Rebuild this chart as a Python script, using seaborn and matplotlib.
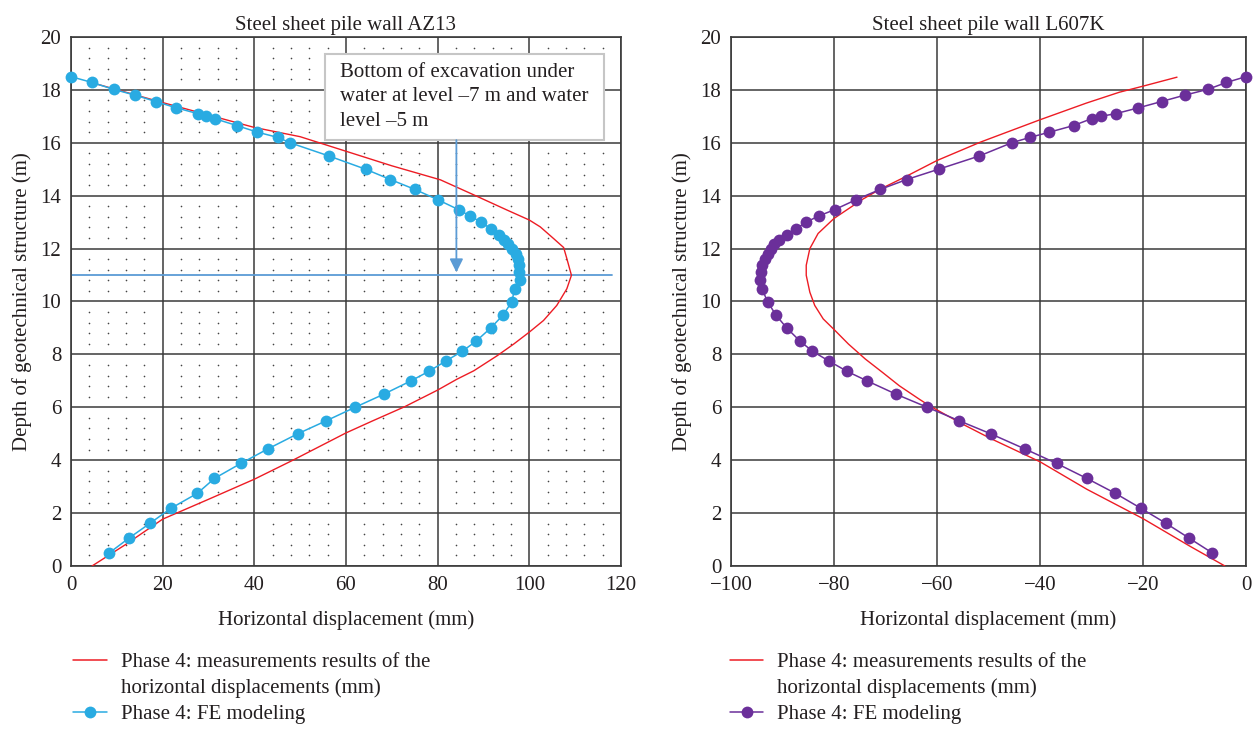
import numpy as np
import pandas as pd
import matplotlib
matplotlib.use("Agg")
import matplotlib.pyplot as plt
from matplotlib.lines import Line2D
from matplotlib.patches import Rectangle
import seaborn as sns

# ---------------- data ----------------
# depth nodes of the FE model (m), shared by both walls
fe_depth = [18.5, 18.28, 18.02, 17.8, 17.56, 17.32, 17.1, 17.0, 16.91, 16.65,
            16.4, 16.2, 16.0, 15.5, 15.0, 14.61, 14.24, 13.85, 13.47, 13.23,
            13.0, 12.75, 12.5, 12.33, 12.17, 12.0, 11.8, 11.61, 11.38, 11.1,
            10.81, 10.48, 9.99, 9.49, 9.0, 8.5, 8.12, 7.75, 7.36, 7.0,
            6.49, 6.0, 5.49, 5.0, 4.43, 3.88, 3.31, 2.75, 2.18, 1.62,
            1.06, 0.5]

# AZ13 wall: FE horizontal displacement (mm)
az13_fe_disp = [0, 4.6, 9.3, 14.0, 18.5, 23.0, 27.7, 29.4, 31.4, 36.2,
                40.7, 45.2, 47.8, 56.3, 64.3, 69.7, 75.0, 80.0, 84.6, 87.1,
                89.5, 91.6, 93.3, 94.4, 95.3, 96.2, 97.0, 97.5, 97.7, 97.8,
                97.9, 96.8, 96.2, 94.3, 91.6, 88.4, 85.4, 81.8, 78.1, 74.2,
                68.2, 62.0, 55.7, 49.5, 43.0, 37.1, 31.3, 27.6, 21.8, 17.3,
                12.7, 8.4]

# AZ13 wall: measured horizontal displacement
az13_meas_disp = [5.0, 20, 30, 40, 50, 60, 70, 80.6, 87.9, 95.1, 100, 102.4,
                  105.3, 107.5, 108.2, 109.2, 108.2, 106.0, 103.1, 100, 96.6,
                  93.0, 87.9, 84.2, 80, 72.8, 66, 60, 48.2, 40, 30, 20, 12, 4.6]
az13_meas_depth = [18.25, 17.52, 17.05, 16.58, 16.23, 15.68, 15.13, 14.6,
                   14.03, 13.46, 13.08, 12.82, 12.38, 12.04, 11.62, 10.99,
                   10.48, 9.85, 9.28, 8.84, 8.39, 7.95, 7.38, 7.06, 6.65, 6.02,
                   5.5, 5.03, 3.98, 3.28, 2.52, 1.77, 0.82, 0.0]

# L607K wall: FE horizontal displacement (mm)
l607k_fe_disp = [0, -3.8, -7.4, -11.9, -16.4, -20.9, -25.3, -28.2, -30.0, -33.5,
                 -38.2, -42.0, -45.5, -51.8, -59.7, -65.9, -71.0, -75.7, -79.9, -83.0,
                 -85.4, -87.4, -89.2, -90.7, -91.6, -92.3, -92.9, -93.4, -93.9, -94.2,
                 -94.3, -94.0, -92.9, -91.3, -89.2, -86.6, -84.2, -81.0, -77.5, -73.6,
                 -67.9, -61.9, -55.7, -49.6, -43.0, -36.8, -30.9, -25.4, -20.4, -15.6,
                 -11.1, -6.6]

# L607K wall: measured horizontal displacement
l607k_meas_disp = [-13.4, -20, -24.6, -31.0, -40, -51.5, -60, -66.3, -71.0, -74.4,
                   -80, -83.1, -84.7, -85.4, -85.4, -84.7, -83.75, -82.1, -80,
                   -77.2, -73.9, -70.6, -67.3, -63.4, -61.4, -55.1, -49.6, -40,
                   -30.9, -20, -11, -4.1]
l607k_meas_depth = [18.48, 18.14, 17.91, 17.5, 16.87, 16.03, 15.33, 14.7, 14.25,
                    13.87, 13.14, 12.57, 12.0, 11.37, 10.99, 10.35, 9.85, 9.34,
                    8.94, 8.39, 7.82, 7.32, 6.81, 6.3, 6.05, 5.37, 4.82, 3.94,
                    2.9, 1.79, 0.76, 0.0]

titles = ["Steel sheet pile wall AZ13", "Steel sheet pile wall L607K"]
az13_xticks = [0, 20, 40, 60, 80, 100, 120]
l607k_xticks = [-100, -80, -60, -40, -20, 0]
depth_ticks = [0, 2, 4, 6, 8, 10, 12, 14, 16, 18, 20]

excavation_depth = 11.0
excavation_note = "Bottom of excavation under\nwater at level \u20137 m and water\nlevel \u20135 m"
label_meas = ["Phase 4: measurements results of the", "horizontal displacements (mm)"]
label_fe = "Phase 4: FE modeling"

# ---------------- style ----------------
sns.set_theme(style="white")
plt.rcParams["font.family"] = ["Liberation Serif", "DejaVu Serif"]
plt.rcParams["axes.unicode_minus"] = True

TXT = "#231F20"
GRID = "#3a3a3a"
RED = "#ED1C24"
BLUE = "#29ABE2"
PURPLE = "#6B2F9A"
STEEL = "#5B9BD5"
FS = 15

fig = plt.figure(figsize=(12.6, 7.29), dpi=100)
ax1 = fig.add_axes([0.0563, 0.2236, 0.4365, 0.7257])
ax2 = fig.add_axes([0.5802, 0.2236, 0.4087, 0.7257])


def style_axes(ax, xlim, xticks, title):
    ax.set_xlim(*xlim)
    ax.set_ylim(0, 20)
    ax.set_xticks(xticks)
    ax.set_yticks(depth_ticks)
    ax.grid(True, which="major", color=GRID, linewidth=1.1, zorder=1)
    ax.set_axisbelow(True)
    for sp in ax.spines.values():
        sp.set_color(GRID)
        sp.set_linewidth(1.2)
    ax.tick_params(length=0, pad=7, labelsize=FS, colors=TXT)
    ax.set_xlabel("Horizontal displacement (mm)", fontsize=FS, color=TXT, labelpad=11)
    ax.set_ylabel("Depth of geotechnical structure (m)", fontsize=FS, color=TXT, labelpad=6)
    ax.set_title(title, fontsize=FS, color=TXT, pad=5)


# ---------------- left: AZ13 ----------------
style_axes(ax1, (0, 120), az13_xticks, titles[0])

# dotted background lattice
gx = [v for v in np.arange(4, 120, 4) if v % 20]
gy = [v for v in np.arange(0.4, 20, 0.4) if abs(v / 2 - round(v / 2)) > 1e-6]
mx, my = np.meshgrid(gx, gy)
ax1.scatter(mx.ravel(), my.ravel(), s=1.4, color="#444444", linewidths=0, zorder=0.5)

ax1.plot([0, 118], [excavation_depth, excavation_depth], color=STEEL, lw=1.3, zorder=2)

sns.lineplot(x=az13_meas_disp, y=az13_meas_depth, sort=False, estimator=None,
             color=RED, linewidth=1.0, ax=ax1, zorder=3)
sns.lineplot(x=az13_fe_disp, y=fe_depth, sort=False, estimator=None,
             color=BLUE, linewidth=1.1, marker="o", markersize=8.5,
             markeredgewidth=0, clip_on=False, ax=ax1, zorder=4)

ax1.add_patch(Rectangle((55.4, 16.1), 61.0, 3.25, facecolor="white",
                        edgecolor="#C6C6C6", linewidth=1.5, zorder=5))
ax1.text(58.8, 19.03, excavation_note, fontsize=FS, color=TXT, ha="left", va="top",
         linespacing=1.42, zorder=6)
ax1.annotate("", xy=(84.1, excavation_depth + 0.1), xytext=(84.1, 16.1),
             arrowprops=dict(arrowstyle="-|>", color=STEEL, lw=1.3,
                             mutation_scale=20, shrinkA=0, shrinkB=0),
             zorder=6)

# ---------------- right: L607K ----------------
style_axes(ax2, (-100, 0), l607k_xticks, titles[1])
sns.lineplot(x=l607k_meas_disp, y=l607k_meas_depth, sort=False, estimator=None,
             color=RED, linewidth=1.0, ax=ax2, zorder=3)
sns.lineplot(x=l607k_fe_disp, y=fe_depth, sort=False, estimator=None,
             color=PURPLE, linewidth=1.1, marker="o", markersize=8.5,
             markeredgewidth=0, clip_on=False, ax=ax2, zorder=4)

# ---------------- legends ----------------
def add_legend(ax, fe_color, x0):
    handles = [Line2D([], [], color=RED, lw=1.1),
               Line2D([], [], color="none"),
               Line2D([], [], color=fe_color, lw=1.1, marker="o",
                      markersize=8.5, markeredgewidth=0)]
    labels = [label_meas[0], label_meas[1], label_fe]
    leg = ax.legend(handles, labels, loc="upper left", bbox_to_anchor=(x0, 0.105),
                    bbox_transform=fig.transFigure, frameon=False, fontsize=FS,
                    handlelength=1.63, handletextpad=0.67, labelspacing=0.3,
                    borderpad=0, borderaxespad=0)
    for t in leg.get_texts():
        t.set_color(TXT)


add_legend(ax1, BLUE, 0.0577)
add_legend(ax2, PURPLE, 0.579)

fig.savefig("out.png", dpi=100)
